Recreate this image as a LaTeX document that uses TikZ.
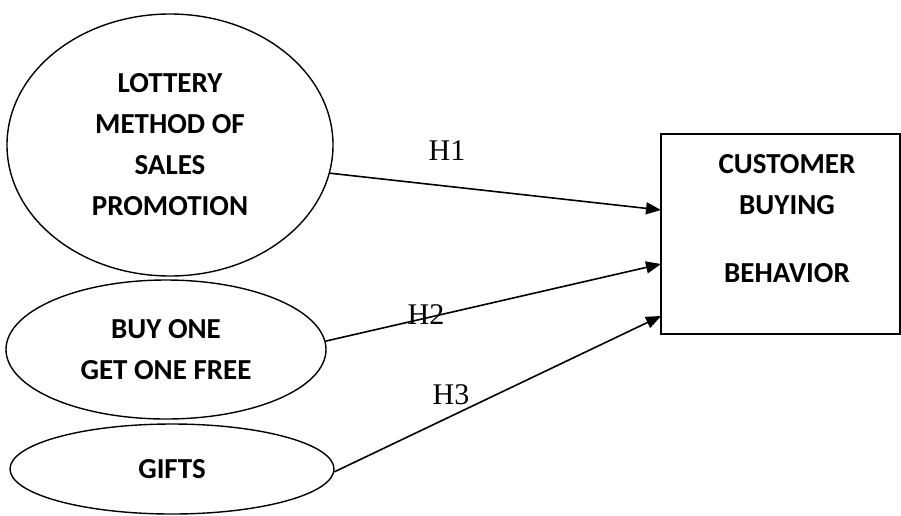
\documentclass[tikz,border=0pt]{standalone}
\usepackage{fontspec}
\setmainfont{Carlito}
\newfontfamily\hfont{Liberation Serif}
\usetikzlibrary{shapes.geometric,arrows.meta}
\tikzset{
  oval/.style={draw, ellipse, line width=1.4pt, inner sep=0pt, align=center,
    font=\fontsize{29}{41}\selectfont\bfseries},
  boxnode/.style={draw, rectangle, line width=1.4pt, inner sep=0pt},
  boxtext/.style={align=center, font=\fontsize{29}{41}\selectfont\bfseries},
  hlab/.style={font=\hfont\fontsize{30}{34}\selectfont, inner sep=0pt},
  link/.style={line width=1.6pt, -{Triangle[length=15pt,width=12pt]}}
}
\begin{document}
\begin{tikzpicture}[x=1pt,y=-1pt]
\useasboundingbox (0,0) rectangle (901,515);
\node[oval, minimum width=326pt, minimum height=262pt] (e1) at (170,145)
  {LOTTERY\\METHOD OF\\SALES\\PROMOTION};
\node[oval, minimum width=320pt, minimum height=139pt] (e2) at (166,349.5)
  {BUY ONE\\GET ONE FREE};
\node[oval, minimum width=324pt, minimum height=90pt] (e3) at (172,469)
  {GIFTS};
\node[boxnode, minimum width=239pt, minimum height=200pt] (box) at (780.5,234) {};
\node[boxtext] (btext) at (787,219) {CUSTOMER\\BUYING\\[27pt]BEHAVIOR};
\coordinate (t1) at (661,210);
\coordinate (t2) at (661,264);
\coordinate (t3) at (661,316);
\draw[link] (e1.-10) -- (t1);
\draw[link] (e2.3) -- (t2);
\draw[link] (e3.-1) -- (t3);
\node[hlab] (h1) at (447,151) {H1};
\node[hlab] (h2) at (426,315) {H2};
\node[hlab] (h3) at (451,395) {H3};
\end{tikzpicture}
\end{document}
